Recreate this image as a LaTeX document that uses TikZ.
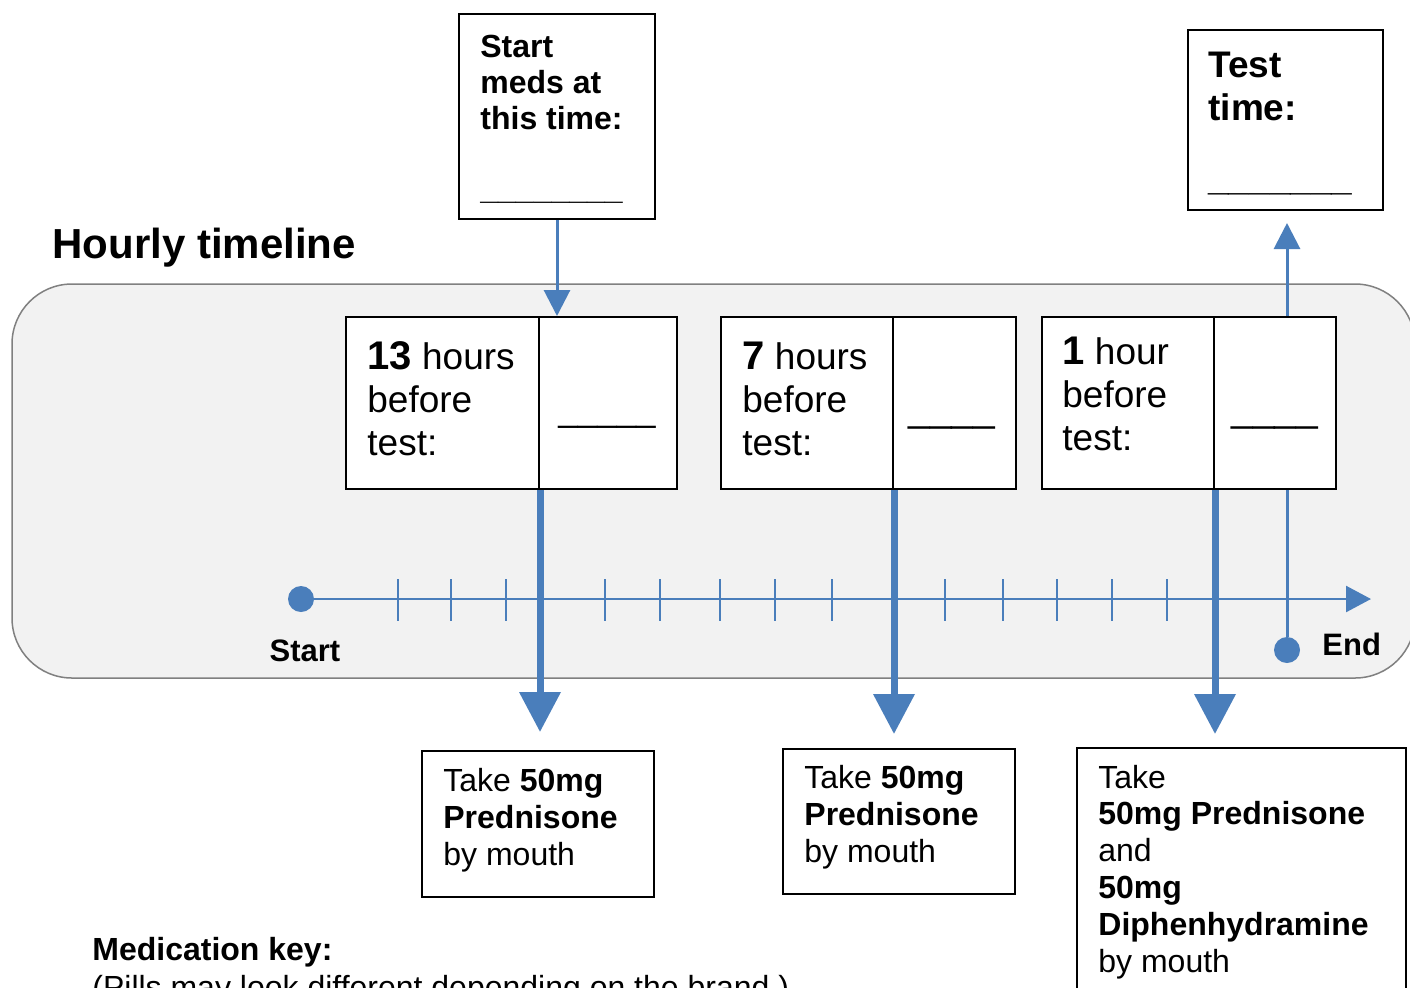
\documentclass[tikz,border=0pt]{standalone}
\usepackage{fontspec}
\setmainfont{Liberation Sans}
\usetikzlibrary{arrows.meta,calc}
\definecolor{tlblue}{HTML}{4A7EBB}
\definecolor{bgfill}{HTML}{F2F2F2}
\definecolor{bgline}{HTML}{808080}
\newcommand\myfs[2]{\fontsize{#1}{#2}\selectfont}
\begin{document}
\begin{tikzpicture}[x=0.5pt,y=-0.5pt,
 box/.style={draw=black,line width=1pt,fill=white,rectangle,inner sep=0pt},
 txt/.style={anchor=base west,inner sep=0pt,align=left},
 thinline/.style={draw=tlblue,line width=1.5pt},
 thinarrow/.style={thinline,-{Triangle[width=13pt,length=13pt]}},
 thickarrow/.style={draw=tlblue,line width=3.5pt,-{Triangle[width=20pt,length=20pt]}},
 tickmark/.style={draw=tlblue,line width=1pt},
 dot/.style={circle,fill=tlblue,inner sep=0pt,minimum size=13pt},
]
\useasboundingbox (0,0) rectangle (1410,987);
\clip (0,0) rectangle (1410,987);
\fill[white] (0,0) rectangle (1410,987);
% background panel
\draw[fill=bgfill,draw=bgline,line width=0.75pt,rounded corners=30pt] (12,284) rectangle (1415,678);
% title
\node[txt,font=\myfs{21}{25}\bfseries] (title) at (52,258) {Hourly timeline};
% timeline axis
\node[dot] (startdot) at (301,599) {};
\coordinate (axisend) at (1371,599);
\draw[draw=tlblue,line width=1.25pt,-{Triangle[width=13pt,length=12.5pt]}] (startdot) -- (axisend);
\foreach \x in {398,451,506,605,660,720,775,832,945,1003,1057,1112,1167}
  \draw[tickmark] (\x,579) -- (\x,621);
\node[txt,anchor=base,font=\myfs{15.5}{18}\bfseries] (startlbl) at (305,661) {Start};
\node[dot] (enddot) at (1287,650) {};
\node[txt,font=\myfs{15.5}{18}\bfseries] (endlbl) at (1322,655) {End};
% top boxes (multi-line text nodes: base anchor = last line)
\node[box,minimum width=98pt,minimum height=102.5pt] (startmeds) at (557,116.5) {};
\node[txt,font=\myfs{16}{18}\bfseries] (startmedstxt) at (480,129) {Start\\meds at\\this time:};
\node[txt,font=\myfs{16}{18}\bfseries] (startmedsline) at (480,199.5) {\_\_\_\_\_\_\_\_};
\node[box,minimum width=97.5pt,minimum height=90pt] (testtime) at (1285.5,120) {};
\node[txt,font=\myfs{18.5}{21.5}\bfseries] (testtxt) at (1208,120) {Test\\time:};
\node[txt,font=\myfs{18.5}{21.5}\bfseries] (testline) at (1208,190) {\_\_\_\_\_\_\_};
% hour boxes
\node[box,minimum width=96.5pt,minimum height=86pt] (h13L) at (442.5,403) {};
\node[box,minimum width=69pt,minimum height=86pt] (h13R) at (608,403) {};
\node[txt,font=\myfs{18.5}{21.5}] (h13txt) at (367,455) {{\myfs{20}{21.5}\bfseries 13} hours\\before\\test:};
\node[txt,font=\myfs{17.5}{21.5}] (h13line) at (558,421.5) {\_\_\_\_\_};
\node[box,minimum width=86pt,minimum height=86pt] (h7L) at (807,403) {};
\node[box,minimum width=61.5pt,minimum height=86pt] (h7R) at (954.5,403) {};
\node[txt,font=\myfs{18.5}{21.5}] (h7txt) at (742,455) {{\myfs{20}{21.5}\bfseries 7} hours\\before\\test:};
\node[txt,font=\myfs{19.5}{21.5}] (h7line) at (908,421.5) {\_\_\_\_};
\node[box,minimum width=86pt,minimum height=86pt] (h1L) at (1128,403) {};
\node[box,minimum width=61pt,minimum height=86pt] (h1R) at (1275,403) {};
\node[txt,font=\myfs{18.5}{21.5}] (h1txt) at (1062,450) {{\myfs{20}{21.5}\bfseries 1} hour\\before\\test:};
\node[txt,font=\myfs{19.5}{21.5}] (h1line) at (1231,421.5) {\_\_\_\_};
% bottom boxes
\node[box,minimum width=116pt,minimum height=73pt] (b1) at (538,824) {};
\node[txt,font=\myfs{16}{18.5}] (b1txt) at (443,865) {Take \textbf{50mg}\\\textbf{Prednisone}\\by mouth};
\node[box,minimum width=116pt,minimum height=72.5pt] (b2) at (899,821.5) {};
\node[txt,font=\myfs{16}{18.5}] (b2txt) at (804,862) {Take \textbf{50mg}\\\textbf{Prednisone}\\by mouth};
\node[box,minimum width=164.5pt,minimum height=131pt] (b3) at (1241.5,879) {};
\node[txt,font=\myfs{16}{18.4}] (b3txt) at (1098,972) {Take\\\textbf{50mg Prednisone}\\and\\\textbf{50mg}\\\textbf{Diphenhydramine}\\by mouth};
% key
\node[txt,font=\myfs{16}{18}\bfseries] (medkey) at (92,960) {Medication key:};
\node[txt,font=\myfs{16}{18}] (pills) at (92,998) {(Pills may look different depending on the brand.)};
% connectors
\draw[thinarrow] (startmeds.south) -- (startmeds.south |- h13R.north);
\path (h1R.north) ++(12,0) coordinate (tup);
\path (h1R.south) ++(12,0) coordinate (tdown);
\draw[thinarrow,shorten >=6pt] (tup) -- (tup |- testtime.south);
\draw[thinline] (tdown) -- (enddot);
\draw[thickarrow,shorten >=9pt] (h13L.south east) -- (h13L.south east |- b1.north);
\draw[thickarrow,shorten >=7pt] (h7L.south east) -- (h7L.south east |- b2.north);
\draw[thickarrow,shorten >=6.5pt] (h1L.south east) -- (h1L.south east |- b3.north);
\end{tikzpicture}
\end{document}
